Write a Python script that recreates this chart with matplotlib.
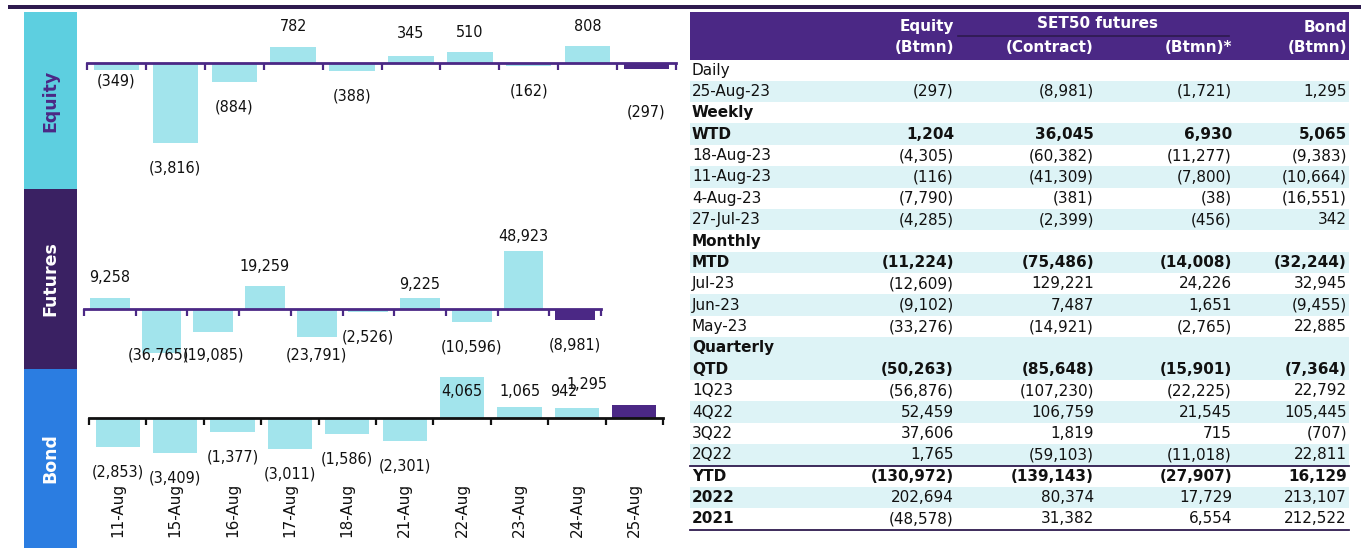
import matplotlib.pyplot as plt
from matplotlib.patches import Rectangle

# chart data (daily net flows)
dates = ['11-Aug', '15-Aug', '16-Aug', '17-Aug', '18-Aug', '21-Aug', '22-Aug', '23-Aug', '24-Aug', '25-Aug']
equity = [-349, -3816, -884, 782, -388, 345, 510, -162, 808, -297]
futures = [9258, -36765, -19085, 19259, -23791, -2526, 9225, -10596, 48923, -8981]
bond = [-2853, -3409, -1377, -3011, -1586, -2301, 4065, 1065, 942, 1295]

# table data
row_labels = ['Daily', '25-Aug-23', 'Weekly', 'WTD', '18-Aug-23', '11-Aug-23', '4-Aug-23', '27-Jul-23',
              'Monthly', 'MTD', 'Jul-23', 'Jun-23', 'May-23', 'Quarterly', 'QTD', '1Q23', '4Q22', '3Q22',
              '2Q22', 'YTD', '2022', '2021']
col_equity = [None, -297, None, 1204, -4305, -116, -7790, -4285, None, -11224, -12609, -9102, -33276,
              None, -50263, -56876, 52459, 37606, 1765, -130972, 202694, -48578]
col_contract = [None, -8981, None, 36045, -60382, -41309, -381, -2399, None, -75486, 129221, 7487, -14921,
                None, -85648, -107230, 106759, 1819, -59103, -139143, 80374, 31382]
col_fut_btmn = [None, -1721, None, 6930, -11277, -7800, -38, -456, None, -14008, 24226, 1651, -2765,
                None, -15901, -22225, 21545, 715, -11018, -27907, 17729, 6554]
col_bond = [None, 1295, None, 5065, -9383, -10664, -16551, 342, None, -32244, 32945, -9455, 22885,
            None, -7364, 22792, 105445, -707, 22811, 16129, 213107, 212522]

bold_labels = {'Weekly', 'WTD', 'Monthly', 'MTD', 'Quarterly', 'QTD', 'YTD', '2022', '2021'}
bold_values = {'WTD', 'MTD', 'QTD', 'YTD'}
shaded_rows = [1, 3, 5, 7, 9, 11, 13, 14, 16, 18, 20]

W, H = 1361, 548
PURPLE = '#4B2885'
DARK = '#2E1A4E'
LIGHT_BAR = '#A2E4EC'
SHADE = '#DDF3F6'


def fmt(v):
    if v is None:
        return ''
    return f'({abs(v):,})' if v < 0 else f'{v:,}'


def px_axes(x0, y0, x1, y1):
    return fig.add_axes([x0 / W, 1 - y1 / H, (x1 - x0) / W, (y1 - y0) / H])


fig = plt.figure(figsize=(W / 100, H / 100), dpi=100)

# overlay in pixel coordinates for boxes, table and side labels
ov = fig.add_axes([0, 0, 1, 1], zorder=0)
ov.set_xlim(0, W)
ov.set_ylim(H, 0)
ov.axis('off')

ov.add_patch(Rectangle((8, 5), W - 8, 4, color=DARK, lw=0))

side = [('Equity', 12, 189, '#5DCFE0', PURPLE), ('Futures', 189, 369, '#3A2163', 'white'),
        ('Bond', 369, 548, '#2B7DE1', 'white')]
for name, y0, y1, bg, fg in side:
    ov.add_patch(Rectangle((24, y0), 53, y1 - y0, color=bg, lw=0))
    ov.text(50, (y0 + y1) / 2, name, rotation=90, ha='center', va='center', color=fg,
            fontsize=12.5, fontweight='bold')


def panel(box, values, zero_px, per_px, line_color, overrides, clamp=None):
    x0, y0, x1, y1 = box
    ax = px_axes(*box)
    ax.set_xlim(-0.5, len(values) - 0.5)
    ax.set_ylim(-(y1 - zero_px) * per_px, (zero_px - y0) * per_px)
    colors = [LIGHT_BAR] * (len(values) - 1) + [PURPLE]
    ax.bar(range(len(values)), values, width=0.77, color=colors, zorder=2)
    for s in ['top', 'right', 'left']:
        ax.spines[s].set_visible(False)
    ax.spines['bottom'].set_position(('data', 0))
    ax.spines['bottom'].set_color(line_color)
    ax.spines['bottom'].set_linewidth(2)
    ax.spines['bottom'].set_zorder(3)
    ax.set_yticks([])
    ax.set_xticks([i - 0.5 for i in range(len(values) + 1)])
    ax.set_xticklabels([])
    ax.tick_params(axis='x', direction='out', length=5, width=1.6, color=line_color)
    ax.patch.set_alpha(0)
    for i, v in enumerate(values):
        # dy: pixel gap between bar end and label centre (outside the bar)
        dx, dy = overrides.get(i, (0, 20 if v > 0 else 25))
        end_px = zero_px - v / per_px
        ypx = end_px - dy if v > 0 else end_px + dy
        if clamp is not None:
            ypx = min(ypx, clamp)
        ax.annotate(fmt(v), xy=(i, (zero_px - ypx) * per_px), xytext=(dx * 0.72, 0),
                    textcoords='offset points', ha='center', va='center',
                    fontsize=11.5, fontstretch='condensed', color='#111111', zorder=4)
    return ax


panel((87, 12, 676, 189), equity, 63, 47.7, PURPLE,
      {0: (0, 11), 9: (0, 43), 5: (0, 22), 1: (0, 25)})
panel((84, 189, 601, 369), futures, 309, 840, PURPLE,
      {6: (0, 14), 8: (0, 14), 1: (-3, 25), 5: (0, 25)}, clamp=355)
bx = panel((89, 369, 663, 482), bond, 418, 98, '#111111',
           {6: (0, -14.5), 7: (0, 16), 8: (-13, 17), 9: (-47, 20)})
for i, d in enumerate(dates):
    bx.text(i, -(483 - 418) * 98, d, rotation=90, ha='center', va='top', fontsize=11,
            color='#111111')

# table
tx0, tx1 = 690, 1349
ov.add_patch(Rectangle((tx0, 12), tx1 - tx0, 48, color=PURPLE, lw=0))
ov.plot([958, 1229], [36, 36], color='#2E1A4E', lw=1.2)
hdr = dict(color='white', fontsize=11, fontweight='bold', va='center')
col_x = [954, 1094, 1232, 1347]
ov.text(col_x[0], 27, 'Equity', ha='right', **hdr)
ov.text(col_x[0], 48, '(Btmn)', ha='right', **hdr)
ov.text(1098, 23, 'SET50 futures', ha='center', **hdr)
ov.text(col_x[1], 48, '(Contract)', ha='right', **hdr)
ov.text(col_x[2], 48, '(Btmn)*', ha='right', **hdr)
ov.text(col_x[3], 27, 'Bond', ha='right', **hdr)
ov.text(col_x[3], 48, '(Btmn)', ha='right', **hdr)

step = 21.38
top = 70
for r in shaded_rows:
    ov.add_patch(Rectangle((tx0, top + step * (r - 0.5)), tx1 - tx0, step, color=SHADE, lw=0))
for r, lab in enumerate(row_labels):
    y = top + step * r
    ov.text(692, y, lab, ha='left', va='center', fontsize=11, color='#111111',
            fontweight='bold' if lab in bold_labels else 'normal')
    vals = [col_equity[r], col_contract[r], col_fut_btmn[r], col_bond[r]]
    for cx, v in zip(col_x, vals):
        ov.text(cx, y, fmt(v), ha='right', va='center', fontsize=11, color='#111111',
                fontweight='bold' if lab in bold_values else 'normal')
for yl in [top + step * 18.5, top + step * 21.5]:
    ov.plot([tx0, tx1], [yl, yl], color=DARK, lw=1.3)

fig.savefig('out.png', dpi=100)
